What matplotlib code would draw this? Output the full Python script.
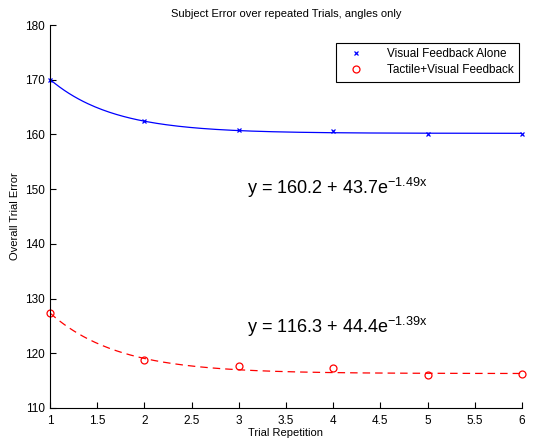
#!/usr/bin/env python3
"""Subject error over repeated trials with exponential fits."""
import numpy as np

import matplotlib
matplotlib.use("Agg")
import matplotlib.pyplot as plt

trials = [1, 2, 3, 4, 5, 6]
visual_err = [170.0, 162.4, 160.8, 160.55, 160.0, 160.1]
tactile_err = [127.4, 118.7, 117.7, 117.3, 116.0, 116.2]

# fit parameters y = a + b * exp(c * x), as printed on the chart
visual_fit = (160.2, 43.7, -1.49)
tactile_fit = (116.3, 44.4, -1.39)

x_ticks = [1, 1.5, 2, 2.5, 3, 3.5, 4, 4.5, 5, 5.5, 6]
y_ticks = [110, 120, 130, 140, 150, 160, 170, 180]

plt.rcParams["font.family"] = ["Liberation Sans", "DejaVu Sans"]

fig = plt.figure(figsize=(5.4, 4.43), dpi=100)
ax = fig.add_axes([50 / 540, 1 - 408 / 443, 472 / 540, 383 / 443])

xs = np.linspace(1, 6, 200)
a, b, c = visual_fit
ax.plot(xs, a + b * np.exp(c * xs), color="#0000ff", lw=0.9)
a, b, c = tactile_fit
ax.plot(xs, a + b * np.exp(c * xs), color="#ff0000", lw=0.9, ls=(0, (6, 4)))

ax.plot(trials, visual_err, ls="none", marker="x", ms=3.5, mew=0.9, color="#0000ff",
        label="Visual Feedback Alone", clip_on=False)
ax.plot(trials, tactile_err, ls="none", marker="o", ms=5, mew=0.9, mfc="none",
        color="#ff0000", label="Tactile+Visual Feedback", clip_on=False)

ax.text(3.09, 150.2, r"y = 160.2 + 43.7e$^{\mathregular{-1.49x}}$", fontsize=13, va="center")
ax.text(3.09, 124.8, r"y = 116.3 + 44.4e$^{\mathregular{-1.39x}}$", fontsize=13, va="center")

ax.set_xlim(1, 6)
ax.set_ylim(110, 180)
ax.set_xticks(x_ticks)
ax.set_xticklabels([f"{t:g}" for t in x_ticks])
ax.set_yticks(y_ticks)
ax.tick_params(labelsize=8.5, direction="in", length=4, width=0.8)
ax.tick_params(axis="x", pad=5)
for side in ("top", "right"):
    ax.spines[side].set_visible(False)
ax.set_xlabel("Trial Repetition", fontsize=8, labelpad=1)
ax.set_ylabel("Overall Trial Error", fontsize=8, labelpad=4)
ax.set_title("Subject Error over repeated Trials, angles only", fontsize=8, pad=6)

leg = ax.legend(loc="upper right", bbox_to_anchor=(519 / 540, 1 - 43 / 443),
                bbox_transform=fig.transFigure, fontsize=8.5, fancybox=False,
                edgecolor="black", framealpha=1, borderpad=0.45, labelspacing=0.35,
                handlelength=2.6, handletextpad=1.3, borderaxespad=0)
leg.get_frame().set_linewidth(0.8)

fig.savefig("out.png", dpi=100)
